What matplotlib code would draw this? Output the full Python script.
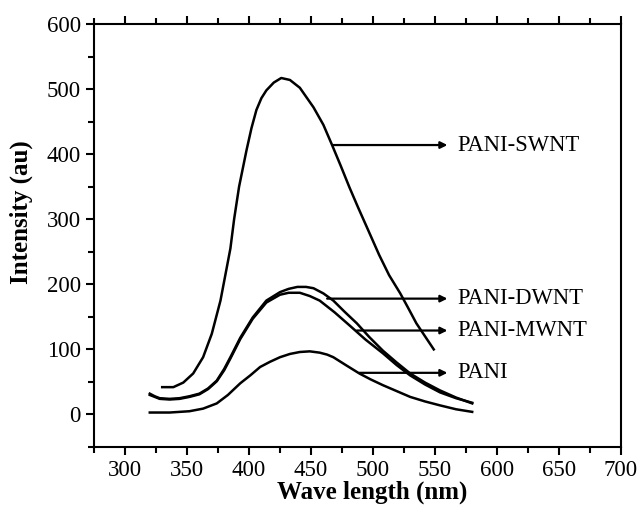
import numpy as np
import matplotlib.pyplot as plt
from matplotlib.ticker import MultipleLocator

# values
wl_swnt = [330, 339, 347, 355, 363, 370, 377, 381, 385, 388, 392, 398, 402, 406, 410, 414, 420, 426,
           433, 441, 452, 460, 467, 474, 481, 488, 495, 505, 513, 522, 528, 535, 542, 549]
int_swnt = [42, 42, 49, 63, 88, 124, 175, 215, 255, 300, 350, 406, 440, 468, 486, 498, 510, 517,
            514, 502, 472, 445, 414, 382, 349, 318, 288, 245, 214, 186, 165, 140, 120, 100]

wl_dwnt = [320, 324, 328, 336, 344, 352, 360, 367, 374, 380, 385, 393, 403, 414, 425, 432, 439, 446,
           452, 460, 468, 477, 487, 497, 508, 519, 530, 542, 554, 567, 580]
int_dwnt = [32, 28, 25, 24, 25, 28, 32, 40, 52, 70, 88, 118, 149, 175, 188, 193, 196, 196,
            194, 186, 175, 158, 140, 119, 98, 80, 63, 49, 37, 26, 17]

wl_mwnt = [320, 324, 328, 336, 344, 352, 360, 367, 374, 380, 385, 393, 403, 414, 425, 432, 441, 449,
           457, 469, 481, 494, 508, 519, 530, 542, 554, 567, 580]
int_mwnt = [30, 27, 24, 23, 24, 27, 31, 39, 51, 68, 86, 116, 147, 172, 184, 187, 187, 182,
            175, 157, 137, 115, 94, 76, 60, 46, 34, 25, 18]

wl_pani = [320, 336, 352, 363, 374, 383, 393, 401, 409, 417, 425, 433, 441, 449, 457, 463, 468,
           478, 489, 498, 508, 519, 530, 542, 554, 567, 580]
int_pani = [3, 3, 5, 9, 17, 30, 48, 60, 73, 81, 88, 93, 96, 97, 95, 92, 88,
            76, 63, 54, 45, 36, 27, 20, 14, 8, 4]

labels = ["PANI-SWNT", "PANI-DWNT", "PANI-MWNT", "PANI"]
arrow_start = [(467, 414), (463, 178), (487, 129), (489, 64)]
arrow_end_x = 560

plt.rcParams['font.family'] = ['Liberation Serif', 'DejaVu Serif']

fig = plt.figure(figsize=(6.42, 5.07), dpi=100)
ax = fig.add_axes([0.1464, 0.1183, 0.8209, 0.8344])

for x, y in [(wl_swnt, int_swnt), (wl_dwnt, int_dwnt), (wl_mwnt, int_mwnt), (wl_pani, int_pani)]:
    ax.plot(x, y, color='black', lw=1.8)

for lab, (x0, y0) in zip(labels, arrow_start):
    ax.annotate("", xy=(arrow_end_x, y0), xytext=(x0, y0),
                arrowprops=dict(arrowstyle='-|>', color='black', lw=1.6,
                                mutation_scale=10, shrinkA=0, shrinkB=0))
    ax.text(arrow_end_x + 8, y0, lab, fontsize=16.3, va='center', ha='left')

ax.set_xlim(275, 700)
ax.set_ylim(-50, 600)
ax.xaxis.set_minor_locator(MultipleLocator(25))
ax.yaxis.set_major_locator(MultipleLocator(100))
ax.yaxis.set_minor_locator(MultipleLocator(50))
ax.set_xticks(np.arange(300, 701, 50))
ax.tick_params(which='both', direction='out', top=True, right=False, width=1.5, labelsize=16.5)
ax.tick_params(which='major', length=6)
ax.tick_params(which='minor', length=4)
ax.tick_params(axis='x', labeltop=False)
for s in ax.spines.values():
    s.set_linewidth(1.5)

ax.set_xlabel("Wave length (nm)", fontsize=18, fontweight='bold')
ax.set_ylabel("Intensity (au)", fontsize=18, fontweight='bold')
ax.xaxis.set_label_coords(0.527, -0.08)
ax.yaxis.set_label_coords(-0.116, 0.556)

fig.savefig("out.png", dpi=100)
